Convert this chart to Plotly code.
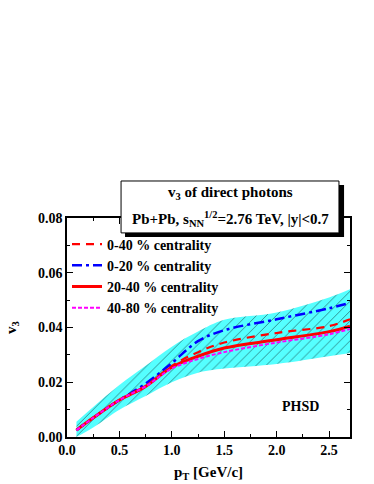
import plotly.graph_objects as go

pt = [0.09, 0.25, 0.5, 0.75, 1.0, 1.25, 1.5, 2.0, 2.5, 2.7]
band_upper = [0.0056, 0.011, 0.019, 0.026, 0.033, 0.0385, 0.0428, 0.0455, 0.051, 0.054]
band_lower = [0.0, 0.0035, 0.010, 0.015, 0.020, 0.0235, 0.025, 0.0267, 0.0295, 0.0307]

v3_0_40 = [0.0025, 0.007, 0.0135, 0.0185, 0.026, 0.031, 0.0345, 0.038, 0.0405, 0.043]
v3_0_20 = [0.0025, 0.007, 0.0135, 0.0195, 0.027, 0.035, 0.039, 0.043, 0.047, 0.049]
v3_20_40 = [0.0025, 0.007, 0.0135, 0.0185, 0.0255, 0.0295, 0.0325, 0.0355, 0.0385, 0.0405]
v3_40_80 = [0.0025, 0.007, 0.0135, 0.0185, 0.025, 0.0285, 0.031, 0.0345, 0.0375, 0.0395]

labels = ["0-40 % centrality", "0-20 % centrality", "20-40 % centrality", "40-80 % centrality"]

FONT = "Liberation Serif, Times New Roman, serif"

fig = go.Figure()
fig.add_trace(go.Scatter(x=pt, y=band_lower, mode="lines", line=dict(width=0, shape="spline"),
                         showlegend=False, hoverinfo="skip"))
fig.add_trace(go.Scatter(x=pt, y=band_upper, mode="lines", line=dict(width=0, shape="spline"),
                         fill="tonexty", fillcolor="#55ffff",
                         fillpattern=dict(shape="/", fgcolor="black", bgcolor="#55ffff",
                                          size=7, solidity=0.12),
                         showlegend=False, hoverinfo="skip"))

fig.add_trace(go.Scatter(x=pt, y=v3_0_40, mode="lines", name=labels[0],
                         line=dict(color="red", width=2.2, dash="8px,6px", shape="spline")))
fig.add_trace(go.Scatter(x=pt, y=v3_0_20, mode="lines", name=labels[1],
                         line=dict(color="blue", width=2.5, dash="10px,4px,3px,4px", shape="spline")))
fig.add_trace(go.Scatter(x=pt, y=v3_20_40, mode="lines", name=labels[2],
                         line=dict(color="red", width=3, shape="spline")))
fig.add_trace(go.Scatter(x=pt, y=v3_40_80, mode="lines", name=labels[3],
                         line=dict(color="magenta", width=2, dash="4px,2px", shape="spline")))

axis_common = dict(
    showline=True, linecolor="black", linewidth=1.5, mirror="ticks",
    ticks="inside", ticklen=6, tickwidth=1.2, tickcolor="black",
    showgrid=False, zeroline=False, automargin=False,
    tickfont=dict(family=FONT, size=14, color="black", weight="bold"),
)

fig.update_xaxes(range=[0, 2.7], tick0=0, dtick=0.5, tickformat=".1f",
                 ticklabelstandoff=-1,
                 minor=dict(ticks="inside", ticklen=3, dtick=0.25, tickcolor="black"),
                 title=dict(text="p<sub>T</sub> [GeV/c]",
                            font=dict(family=FONT, size=15, color="black", weight="bold"),
                            standoff=10),
                 **axis_common)
fig.update_yaxes(range=[0, 0.08], tick0=0, dtick=0.02, tickformat=".2f",
                 minor=dict(ticks="inside", ticklen=3, dtick=0.01, tickcolor="black"),
                 title=dict(text="v<sub>3</sub>",
                            font=dict(family=FONT, size=15, color="black", weight="bold"),
                            standoff=18),
                 **axis_common)

shapes = [
    dict(type="rect", xref="paper", yref="paper", x0=0.205, x1=0.979, y0=0.913, y1=1.151,
         fillcolor="black", line=dict(width=0), layer="above"),
    dict(type="rect", xref="paper", yref="paper", x0=0.191, x1=0.961, y0=0.932, y1=1.169,
         fillcolor="white", line=dict(color="black", width=1), layer="above"),
]

annotations = [
    dict(text="v<sub>3</sub> of direct photons", xref="paper", yref="paper", x=0.576, y=1.165,
         showarrow=False, font=dict(family=FONT, size=15, color="black", weight="bold")),
    dict(text="Pb+Pb, s<sub>NN</sub><sup>1/2</sup>=2.76 TeV, |y|<0.7", xref="paper", yref="paper",
         x=0.576, y=1.05, showarrow=False,
         font=dict(family=FONT, size=15, color="black", weight="bold")),
    dict(text="PHSD", x=2.23, y=0.0113, xref="x", yref="y", showarrow=False,
         font=dict(family=FONT, size=14, color="black", weight="bold")),
]

fig.update_layout(
    width=374, height=484,
    margin=dict(l=67, r=24, t=218, b=47, autoexpand=False),
    paper_bgcolor="white", plot_bgcolor="white",
    shapes=shapes, annotations=annotations,
    legend=dict(x=0.0, y=0.952, xanchor="left", yanchor="top", bgcolor="rgba(0,0,0,0)",
                font=dict(family=FONT, size=14, color="black", weight="bold"),
                tracegroupgap=0, traceorder="normal"),
    showlegend=True,
)

fig.write_html("out.html", config={"displayModeBar": False},
               post_script="document.body.style.margin='0';")
